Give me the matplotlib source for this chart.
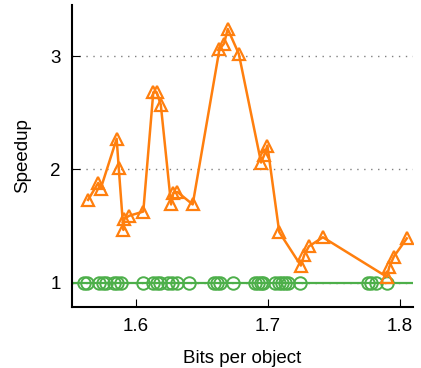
import matplotlib
matplotlib.use("Agg")
import matplotlib.pyplot as plt

# orange series: speedup vs bits per object
fast_bits = [1.5636, 1.5713, 1.5732, 1.5853, 1.5869, 1.5904, 1.5911, 1.5949,
             1.6055, 1.6131, 1.6157, 1.6188, 1.6266, 1.6283, 1.6314, 1.6430,
             1.6633, 1.6668, 1.6696, 1.6780, 1.6949, 1.6974, 1.6997, 1.7087,
             1.7251, 1.7277, 1.7312, 1.7418, 1.7904, 1.7921, 1.7957, 1.8055]
fast_speedup = [1.73, 1.88, 1.83, 2.27, 2.01, 1.465, 1.565, 1.59,
                1.627, 2.68, 2.68, 2.57, 1.69, 1.79, 1.80, 1.69,
                3.06, 3.11, 3.24, 3.02, 2.06, 2.13, 2.21, 1.445,
                1.15, 1.245, 1.32, 1.40, 1.05, 1.135, 1.23, 1.39]

# green baseline series (speedup 1)
base_bits = [1.5605, 1.5628, 1.5719, 1.5749, 1.5772, 1.5833, 1.5856, 1.5886,
             1.6053, 1.6129, 1.6159, 1.6182, 1.6243, 1.6273, 1.6311, 1.6402,
             1.6592, 1.6615, 1.6638, 1.6737, 1.6904, 1.6926, 1.6949, 1.6964,
             1.7055, 1.7086, 1.7109, 1.7131, 1.7154, 1.7245, 1.7762, 1.7784,
             1.7822, 1.7906]
base_speedup = [1.0] * len(base_bits)

x_ticks = [1.6, 1.7, 1.8]
y_ticks = [1, 2, 3]

ORANGE = "#ff7f0e"
GREEN = "#4daf4a"

plt.rcParams["font.family"] = ["Liberation Sans", "DejaVu Sans"]
plt.rcParams["font.size"] = 13.5

fig = plt.figure(figsize=(4.21, 3.68), dpi=100)
ax = fig.add_axes([0.171, 0.166, 0.81, 0.82])

ax.axhline(1.0, color=GREEN, linewidth=1.6, zorder=2)
ax.plot(base_bits, base_speedup, linestyle="none", marker="o", markersize=9,
        markerfacecolor="none", markeredgecolor=GREEN, markeredgewidth=1.4, zorder=3)
ax.plot(fast_bits, fast_speedup, color=ORANGE, linewidth=1.8, marker="^", markersize=8,
        markerfacecolor="none", markeredgecolor=ORANGE, markeredgewidth=1.6, zorder=4)

ax.set_xlim(1.5514, 1.8102)
ax.set_ylim(0.785, 3.45)
ax.set_xticks(x_ticks)
ax.set_xticklabels([f"{v:.1f}" for v in x_ticks])
ax.set_yticks(y_ticks)
ax.set_xlabel("Bits per object", labelpad=11)
ax.set_ylabel("Speedup", labelpad=14)

ax.grid(axis="y", linestyle=(0, (1, 4)), color="#808080", linewidth=1.0)
ax.grid(axis="x", visible=False)
ax.set_axisbelow(True)
ax.spines["top"].set_visible(False)
ax.spines["right"].set_visible(False)
ax.spines["left"].set_linewidth(1.5)
ax.spines["bottom"].set_linewidth(1.5)
ax.tick_params(direction="in", length=6, width=0.8, pad=8)

fig.savefig("out.png", dpi=100)
